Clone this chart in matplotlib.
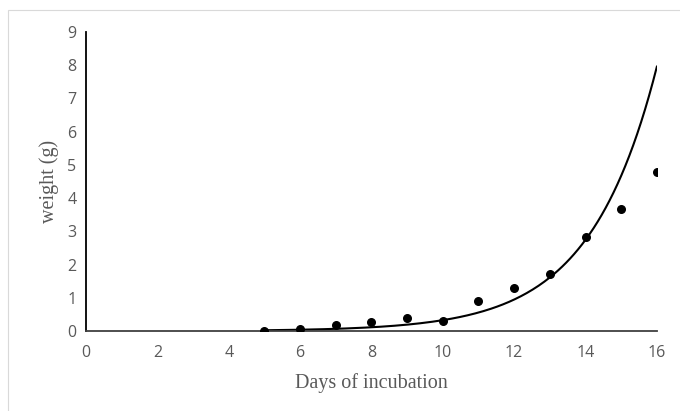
import matplotlib
matplotlib.use("Agg")
import matplotlib.pyplot as plt
from matplotlib.patches import Rectangle
import numpy as np

# observed weights
days = [5, 6, 7, 8, 9, 10, 11, 12, 13, 14, 15, 16]
weight = [0.0, 0.06, 0.18, 0.27, 0.39, 0.30, 0.90, 1.30, 1.72, 2.83, 3.67, 4.79]

# exponential trendline y = a * exp(b * x), coefficients
trend_a = 0.0016
trend_b = 0.532

xticks = [0, 2, 4, 6, 8, 10, 12, 14, 16]
yticks = [0, 1, 2, 3, 4, 5, 6, 7, 8, 9]

fig = plt.figure(figsize=(6.8, 4.11), dpi=100)
ax = fig.add_axes([0.1265, 0.1946, 0.8395, 0.7274])

# light frame around the chart area (runs off the right and bottom edges)
fig.patches.append(Rectangle((8 / 680, -0.05), 1.1, 1.05 - 10 / 411, transform=fig.transFigure,
                             fill=False, edgecolor="#d9d9d9", linewidth=0.8))

xs = np.linspace(days[0], days[-1], 200)
ax.plot(xs, trend_a * np.exp(trend_b * xs), color="black", linewidth=1.5, zorder=2)
ax.scatter(days, weight, s=30, color="black", zorder=3)

ax.set_xlim(0, 16)
ax.set_ylim(0, 9)
ax.set_xticks(xticks)
ax.set_yticks(yticks)

for side in ["top", "right"]:
    ax.spines[side].set_visible(False)
ax.spines["left"].set_color("black")
ax.spines["left"].set_linewidth(1.3)
ax.spines["bottom"].set_color("#404040")
ax.spines["bottom"].set_linewidth(1.3)

ax.tick_params(axis="x", length=0, pad=10, labelsize=11.5, labelcolor="#595959")
ax.tick_params(axis="y", length=0, pad=7, labelsize=11.5, labelcolor="#595959")
for lab in ax.get_xticklabels() + ax.get_yticklabels():
    lab.set_family("Open Sans")

ax.set_xlabel("Days of incubation", family="Liberation Serif", fontsize=14.5, color="#595959", labelpad=9)
ax.set_ylabel("weight (g)", family="Liberation Serif", fontsize=14.5, color="#595959", labelpad=6)

plt.savefig("out.png", dpi=100)
plt.close()
